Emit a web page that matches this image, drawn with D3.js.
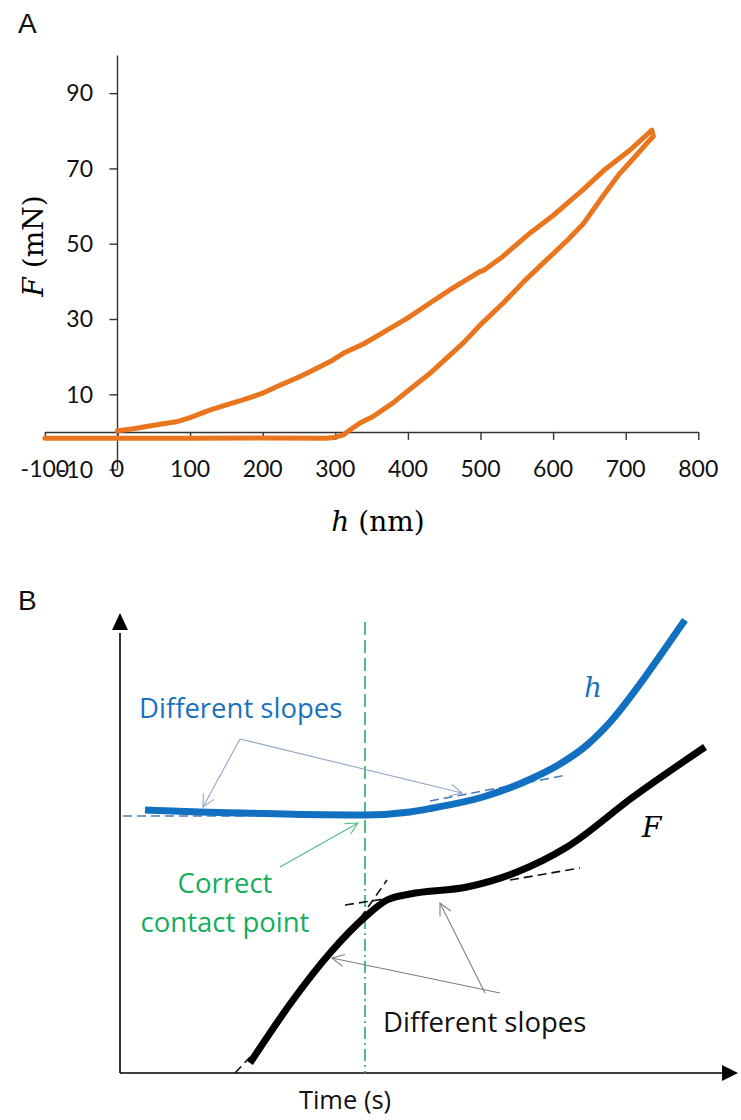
<!DOCTYPE html>
<html lang="en">

<head>
  <meta charset="utf-8">
  <title>F-h curve and contact point</title>
  <script src="https://d3js.org/d3.v7.min.js"></script>
  <style>
    body { margin: 0; background: white; }
    .tick-label { font-family: Lato, sans-serif; font-size: 23px; fill: #111; }
    .panel { font-family: "Liberation Sans", Arial, sans-serif; font-size: 28px; fill: #111; }
    .note { font-family: "Open Sans", sans-serif; font-size: 27.5px; }
    .axis-note { font-family: "Open Sans", sans-serif; font-size: 25.5px; }
    .math { font-family: "DejaVu Serif", serif; font-size: 28px; }
  </style>
</head>

<body>
  <div id="chart"></div>
  <script>
    var w = 741;
    var h = 1120;

    // panel A: indentation load (mN) vs depth (nm)
    var loadingH = [0, 20, 50, 81, 100, 127, 150, 173, 200, 219, 250, 265, 293, 311, 340, 362, 400, 430, 460, 499, 505, 530, 568, 600, 641, 670, 706, 736];
    var loadingF = [0.3, 0.8, 1.8, 2.7, 3.8, 5.8, 7.2, 8.5, 10.3, 12, 14.6, 16, 18.7, 20.9, 23.5, 26, 30.3, 34.2, 38, 42.6, 43, 46.5, 52.8, 57.5, 64.3, 69.5, 74.9, 80.2];
    var unloadingH = [736, 738, 733, 710, 692, 670, 642, 620, 591, 560, 531, 500, 476, 450, 430, 407, 380, 352, 334, 320, 311, 298, 288, 200, 100, 0, -100];
    var unloadingF = [80.2, 78.5, 77.5, 72.5, 68.7, 63, 55.4, 51, 45.7, 40, 34.2, 28.5, 23.6, 19, 15.5, 12, 7.8, 4.1, 2.4, 0.5, -0.8, -1.5, -1.7, -1.6, -1.7, -1.7, -1.7];
    var xTicksA = [-100, 0, 100, 200, 300, 400, 500, 600, 700, 800];
    var yTicksA = [-10, 10, 30, 50, 70, 90];

    // panel B: schematic, time and signal in arbitrary units
    var hTime = [25, 80, 123, 180, 245, 290, 313, 363, 413, 440, 467, 492, 520, 542, 565];
    var hSignal = [263, 261, 260, 258.5, 258, 261, 265, 276, 295, 309, 328, 353, 389, 420, 453];
    var fTime = [130, 173, 210, 245, 267, 290, 347, 397, 447, 513, 585];
    var fSignal = [10, 73, 120, 156, 173, 179, 186, 201, 226, 276, 326];
    var contactTime = 245;
    // tangent segments [t0, v0, t1, v1]
    var hTangents = [[3, 257, 130, 257], [310, 272, 447, 298]];
    var fTangents = [[115, 0, 130, 16], [232, 143, 267, 193], [225, 168, 277, 176], [390, 193, 460, 205]];
    // annotation arrows [fromT, fromV, toT, toV]
    var blueArrows = [[120, 334, 83, 266], [120, 334, 342, 280]];
    var greenArrows = [[160, 206, 238, 250]];
    var grayArrows = [[380, 80, 212, 115], [365, 80, 320, 170]];

    var svg = d3.select('#chart').append('svg')
      .attr('width', w)
      .attr('height', h)
      .style('background', 'white');

    var defs = svg.append('defs');
    function chevron(id, color) {
      defs.append('marker')
        .attr('id', id)
        .attr('markerUnits', 'userSpaceOnUse')
        .attr('markerWidth', 16).attr('markerHeight', 16)
        .attr('viewBox', '0 0 16 16')
        .attr('refX', 14).attr('refY', 8)
        .attr('orient', 'auto')
        .append('path')
        .attr('d', 'M2,2 L14,8 L2,14')
        .attr('fill', 'none')
        .attr('stroke', color)
        .attr('stroke-width', 1.1);
    }
    chevron('arBlue', '#8ea6c8');
    chevron('arGreen', '#4cc07e');
    chevron('arGray', '#7f7f7f');

    // ---------- panel A ----------
    var xA = d3.scaleLinear().domain([-100, 800]).range([44.9, 698.3]);
    var yA = d3.scaleLinear().domain([-10, 100]).range([469.6, 55.5]);

    svg.append('text').attr('class', 'panel').attr('x', 18).attr('y', 33).text('A');

    var axisColor = '#333';
    // y axis
    var gy = svg.append('g').attr('transform', 'translate(' + xA(0) + ',0)')
      .call(d3.axisLeft(yA).tickValues(yTicksA).tickSize(8).tickFormat(''));
    gy.select('.domain').attr('stroke', axisColor).attr('stroke-width', 1.4).attr('d', 'M0,' + yA(-10) + 'V' + yA(100));
    gy.selectAll('.tick line').attr('stroke', axisColor).attr('stroke-width', 1.4);
    svg.selectAll('text.ylab').data(yTicksA).enter().append('text')
      .attr('class', 'tick-label ylab')
      .attr('x', 93)
      .attr('y', function (d) { return yA(d); })
      .attr('dy', '0.36em')
      .attr('text-anchor', 'end')
      .text(function (d) { return d; });

    // x axis
    var gx = svg.append('g').attr('transform', 'translate(0,' + yA(0) + ')')
      .call(d3.axisBottom(xA).tickValues(xTicksA).tickSize(8).tickSizeOuter(0).tickFormat(''));
    gx.select('.domain').attr('stroke', axisColor).attr('stroke-width', 1.4);
    gx.selectAll('.tick line').attr('stroke', axisColor).attr('stroke-width', 1.4);
    svg.selectAll('text.xlab').data(xTicksA).enter().append('text')
      .attr('class', 'tick-label xlab')
      .attr('x', function (d) { return xA(d); })
      .attr('y', 477)
      .attr('text-anchor', 'middle')
      .text(function (d) { return d; });

    var lineA = d3.line()
      .x(function (d) { return xA(d[0]); })
      .y(function (d) { return yA(d[1]); });
    var loopPts = loadingH.map(function (v, i) { return [v, loadingF[i]]; })
      .concat(unloadingH.map(function (v, i) { return [v, unloadingF[i]]; }));
    svg.append('path')
      .datum(loopPts)
      .attr('d', lineA)
      .attr('fill', 'none')
      .attr('stroke', '#e9761f')
      .attr('stroke-width', 5)
      .attr('stroke-linejoin', 'round')
      .attr('stroke-linecap', 'round');

    // axis titles
    var xt = svg.append('text').attr('class', 'math').attr('x', 378).attr('y', 531).attr('text-anchor', 'middle');
    xt.append('tspan').attr('font-style', 'italic').text('h');
    xt.append('tspan').text(' (nm)');
    var yt = svg.append('text').attr('class', 'math').attr('text-anchor', 'middle')
      .attr('transform', 'translate(43,246) rotate(-90)');
    yt.append('tspan').attr('font-style', 'italic').text('F');
    yt.append('tspan').text(' (mN)');

    // ---------- panel B ----------
    var xB = d3.scaleLinear().domain([0, 600]).range([120, 720]);
    var yB = d3.scaleLinear().domain([0, 460]).range([1073, 613]);

    svg.append('text').attr('class', 'panel').attr('x', 18).attr('y', 610).text('B');

    // axes with arrow heads
    svg.append('line').attr('x1', xB(0)).attr('y1', yB(0)).attr('x2', xB(0)).attr('y2', yB(440))
      .attr('stroke', '#000').attr('stroke-width', 1.6);
    svg.append('path').attr('d', 'M' + xB(0) + ',' + yB(460) + 'l-8,17h16z').attr('fill', '#000');
    svg.append('line').attr('x1', xB(0)).attr('y1', yB(0)).attr('x2', xB(605)).attr('y2', yB(0))
      .attr('stroke', '#000').attr('stroke-width', 1.6);
    svg.append('path').attr('d', 'M' + xB(618) + ',' + yB(0) + 'l-16,-8v16z').attr('fill', '#000');

    svg.append('text').attr('class', 'axis-note').attr('x', 345).attr('y', 1109)
      .attr('text-anchor', 'middle').attr('fill', '#111').text('Time (s)');

    // contact point line
    svg.append('line')
      .attr('x1', xB(contactTime)).attr('x2', xB(contactTime))
      .attr('y1', yB(451)).attr('y2', yB(200))
      .attr('stroke', '#1aa85a').attr('stroke-width', 1.5).attr('stroke-dasharray', '13,5');
    svg.append('line')
      .attr('x1', xB(contactTime)).attr('x2', xB(contactTime))
      .attr('y1', yB(200)).attr('y2', yB(0))
      .attr('stroke', '#1aa85a').attr('stroke-width', 1.5).attr('stroke-dasharray', '12,4,2,4');

    var lineB = d3.line()
      .x(function (d) { return xB(d[0]); })
      .y(function (d) { return yB(d[1]); })
      .curve(d3.curveMonotoneX);

    function segs(list, color) {
      svg.selectAll(null).data(list).enter().append('line')
        .attr('x1', function (d) { return xB(d[0]); })
        .attr('y1', function (d) { return yB(d[1]); })
        .attr('x2', function (d) { return xB(d[2]); })
        .attr('y2', function (d) { return yB(d[3]); })
        .attr('stroke', color).attr('stroke-width', 1.6).attr('stroke-dasharray', '9,5');
    }
    segs(hTangents, '#4d7fbf');
    segs(fTangents, '#111');

    svg.append('path')
      .datum(hTime.map(function (t, i) { return [t, hSignal[i]]; }))
      .attr('d', lineB)
      .attr('fill', 'none').attr('stroke', '#1170c0').attr('stroke-width', 7);
    svg.append('path')
      .datum(fTime.map(function (t, i) { return [t, fSignal[i]]; }))
      .attr('d', lineB)
      .attr('fill', 'none').attr('stroke', '#000').attr('stroke-width', 7);

    function arrows(list, color, marker) {
      svg.selectAll(null).data(list).enter().append('line')
        .attr('x1', function (d) { return xB(d[0]); })
        .attr('y1', function (d) { return yB(d[1]); })
        .attr('x2', function (d) { return xB(d[2]); })
        .attr('y2', function (d) { return yB(d[3]); })
        .attr('stroke', color).attr('stroke-width', 1.1)
        .attr('marker-end', 'url(#' + marker + ')');
    }
    arrows(blueArrows, '#8ea6c8', 'arBlue');
    arrows(greenArrows, '#4cc07e', 'arGreen');
    arrows(grayArrows, '#7f7f7f', 'arGray');

    // labels
    svg.append('text').attr('class', 'note').attr('x', 139).attr('y', 718)
      .attr('fill', '#1a72bd').text('Different slopes');
    svg.append('text').attr('class', 'note').attr('x', 225).attr('y', 893)
      .attr('text-anchor', 'middle').attr('fill', '#16ad5c').text('Correct');
    svg.append('text').attr('class', 'note').attr('x', 225).attr('y', 932)
      .attr('text-anchor', 'middle').attr('fill', '#16ad5c').text('contact point');
    svg.append('text').attr('class', 'note').attr('x', 383).attr('y', 1032)
      .attr('fill', '#111').text('Different slopes');
    svg.append('text').attr('class', 'math').attr('x', 584).attr('y', 697)
      .attr('font-style', 'italic').attr('fill', '#1a72bd').text('h');
    svg.append('text').attr('class', 'math').attr('x', 642).attr('y', 837)
      .attr('font-style', 'italic').attr('fill', '#000').text('F');
  </script>
</body>

</html>
